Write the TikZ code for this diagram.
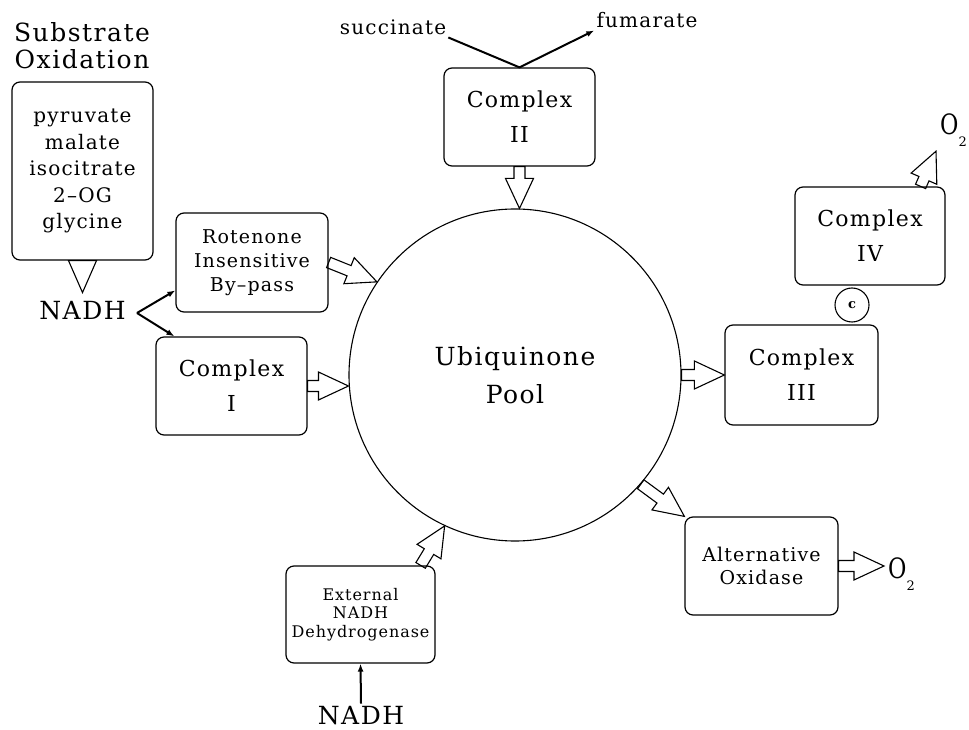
\documentclass[tikz,border=0pt]{standalone}
\usepackage{fontspec}
\setmainfont{DejaVu Serif}[LetterSpace=6]
\usetikzlibrary{calc,arrows.meta}
\tikzset{
  box/.style={draw, rounded corners=8pt, line width=1.2pt, align=center, inner sep=0pt},
  hollow/.style={draw, line width=1.1pt, line join=miter},
  feed/.style={line width=2pt, -{Latex[length=8pt,width=6pt]}},
  plain/.style={inner sep=2pt}
}
% open block arrow from #2 to #3, head length #1
\newcommand\hollowarrow[3][30]{%
  \draw[hollow] let \p1=(#2), \p2=(#3),
    \n1={atan2(\y2-\y1,\x2-\x1)}, \n2={veclen(\x2-\x1,\y2-\y1)},
    \n3={min(#1,\n2)}, \n4={atan2(14,\n3)}, \n5={veclen(\n3,14)} in
    (\p1) ++(\n1+90:5.5) -- ++(\n1:{\n2-\n3}) -- ++(\n1+90:8.5) -- (\p2)
    -- ++(\n1+180+\n4:\n5) -- ++(\n1+90:8.5) -- ++(\n1+180:{\n2-\n3}) -- cycle;}
\newcommand\oxy{\scalebox{0.8}[1]{O}\raisebox{-12pt}{\fontsize{13}{13}\selectfont 2}}

\begin{document}
\begin{tikzpicture}[x=1pt,y=1pt]
\useasboundingbox (0,0) rectangle (969,729);
\node[align=center, font=\fontsize{25}{27}\selectfont] (title) at (82,683) {Substrate\\Oxidation};
\node[box, minimum width=141pt, minimum height=178pt, font=\fontsize{20}{26.5}\selectfont] (subs) at (82.5,558) {pyruvate\\malate\\isocitrate\\2–OG\\glycine};
\node[box, minimum width=152pt, minimum height=99pt, font=\fontsize{19}{24}\selectfont] (rot) at (252,466.5) {Rotenone\\Insensitive\\By–pass};
\node[box, minimum width=151pt, minimum height=98pt, font=\fontsize{22}{35}\selectfont] (cx1) at (231.5,343) {Complex\\I};
\node[box, minimum width=151pt, minimum height=98pt, font=\fontsize{22}{35}\selectfont] (cx2) at (519.5,612) {Complex\\II};
\node[box, minimum width=153pt, minimum height=100pt, font=\fontsize{22}{35}\selectfont] (cx3) at (801.5,354) {Complex\\III};
\node[box, minimum width=150pt, minimum height=98pt, font=\fontsize{22}{35}\selectfont] (cx4) at (870,493) {Complex\\IV};
\node[box, minimum width=153pt, minimum height=98pt, font=\fontsize{19}{23}\selectfont] (alt) at (761.5,163) {Alternative\\Oxidase};
\node[box, minimum width=149pt, minimum height=97pt, font=\fontsize{16}{18.5}\selectfont] (ext) at (360.5,114.5) {External\\NADH\\Dehydrogenase};
\node[circle, draw, line width=1.1pt, minimum size=332pt, align=center, font=\fontsize{25}{38}\selectfont] (pool) at (515,354) {Ubiquinone\\Pool};
\node[circle, draw, line width=1.1pt, minimum size=34pt, inner sep=0pt, font=\bfseries\fontsize{13}{13}\selectfont] (cyt) at (852,424) {c};
% free labels
\node[plain, anchor=base, font=\fontsize{25}{25}\selectfont] (nadhL) at (82.5,409) {NADH};
\node[plain, anchor=base, font=\fontsize{25}{25}\selectfont] (nadhB) at (361,5) {NADH};
\node[plain, anchor=base, font=\fontsize{20}{20}\selectfont] (succ) at (393,694) {succinate};
\node[plain, anchor=base, font=\fontsize{20}{20}\selectfont] (fum) at (647,701) {fumarate};
\node[anchor=base west, inner sep=4pt, font=\fontsize{28}{28}\selectfont] (o2top) at (936,594) {\oxy};
\node[anchor=base west, inner sep=4pt, font=\fontsize{28}{28}\selectfont] (o2alt) at (884,151) {\oxy};
% thin connectors
\coordinate (fork) at (137,416);
\draw[feed] (fork) -- (rot.200);
\draw[feed] (fork) -- (cx1.139);
\draw[feed] (succ.south east) -- (cx2.north) -- (fum.south west);
\draw[feed] (nadhB.north) -- (ext.south);
% block arrows
\hollowarrow[40]{subs.south}{[yshift=7pt]nadhL.north}
\hollowarrow{rot.east}{pool.146}
\hollowarrow{cx1.east}{cx1.east -| pool.west}
\hollowarrow{cx2.south}{cx2.south |- pool.north}
\hollowarrow{cx3.west -| pool.east}{cx3.west}
\hollowarrow{pool.-41}{alt.north west}
\hollowarrow{[xshift=-15pt]ext.north east}{pool.-115}
\hollowarrow{[xshift=-25pt]cx4.north east}{o2top.south west}
\hollowarrow{alt.east}{alt.east -| o2alt.west}
\end{tikzpicture}
\end{document}
